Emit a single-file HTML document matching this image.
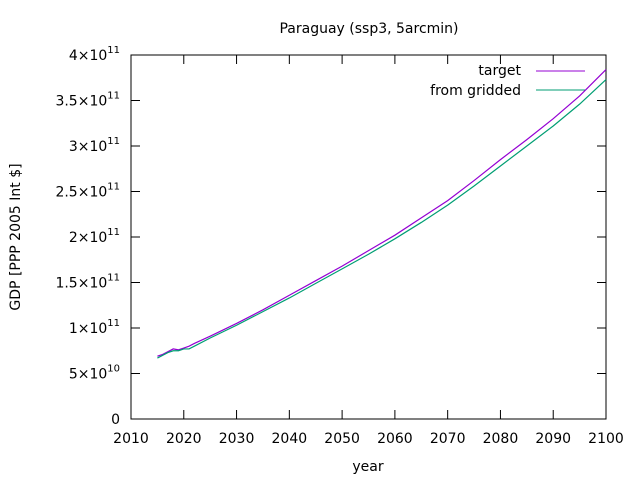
<!DOCTYPE html>
<html><head><meta charset="utf-8"><style>
body{margin:0;background:#fff;}
svg text{font-family:"DejaVu Sans","Liberation Sans",sans-serif;font-size:14px;fill:#000;}
</style></head><body>
<svg width="640" height="480" id="c">
<text x="369" y="33" text-anchor="middle">Paraguay (ssp3, 5arcmin)</text>
<text x="368" y="471" text-anchor="middle">year</text>
<text transform="translate(20,237) rotate(-90)" text-anchor="middle">GDP [PPP 2005 Int $]</text>
<rect x="131" y="55" width="475" height="364" fill="none" stroke="#000"/>
<g id="ticks"></g>
<g>
<text x="521" y="75" text-anchor="end">target</text>
<line x1="536" y1="71" x2="585" y2="71" stroke="#9400d3"/>
<text x="521" y="95" text-anchor="end">from gridded</text>
<line x1="536" y1="90" x2="585" y2="90" stroke="#009e73"/>
</g>
<g id="lines"></g>
</svg>
<script>
const years=[2015,2016,2017,2018,2019,2020,2021,2022,2025,2030,2035,2040,2045,2050,2055,2060,2065,2070,2075,2080,2085,2090,2095,2100];
const target=[0.69,0.71,0.74,0.77,0.76,0.78,0.80,0.83,0.91,1.05,1.20,1.36,1.52,1.68,1.85,2.02,2.21,2.40,2.62,2.85,3.07,3.30,3.55,3.84];
const gridded=[0.67,0.70,0.73,0.75,0.75,0.77,0.77,0.80,0.89,1.03,1.18,1.33,1.49,1.65,1.81,1.98,2.16,2.35,2.56,2.78,3.00,3.22,3.46,3.73];
const xTicks=[2010,2020,2030,2040,2050,2060,2070,2080,2090,2100];
const yTicks=[0,0.5,1,1.5,2,2.5,3,3.5,4];
const yLabels=["0","5×10|10","1×10|11","1.5×10|11","2×10|11","2.5×10|11","3×10|11","3.5×10|11","4×10|11"];
const X=v=>131+(v-2010)*475/90, Y=v=>419-v*91;
const NS="http://www.w3.org/2000/svg";
const tg=document.getElementById('ticks'), lg=document.getElementById('lines');
function mk(t,a,p){const e=document.createElementNS(NS,t);for(const k in a)e.setAttribute(k,a[k]);p.appendChild(e);return e;}
xTicks.forEach(v=>{const x=X(v);
const l1=mk('line',{x1:x,y1:419,x2:x,y2:410,stroke:'#000'},tg);


const l2=mk('line',{x1:x,y1:55,x2:x,y2:64,stroke:'#000'},tg);


const t=mk('text',{x:x,y:443,'text-anchor':'middle'},tg);t.textContent=v;

});
yTicks.forEach((v,i)=>{const y=Y(v);
const l1=mk('line',{x1:131,y1:y,x2:140,y2:y,stroke:'#000'},tg);


const l2=mk('line',{x1:606,y1:y,x2:597,y2:y,stroke:'#000'},tg);


const t=mk('text',{x:120,y:y+5,'text-anchor':'end'},tg);


const p=yLabels[i].split('|');
if(p.length>1){t.textContent=p[0];const s=mk('tspan',{dy:-7,'font-size':'10px'},t);s.textContent=p[1];}else t.textContent=p[0];});
function line(d,c,n){const pts=years.map((y,i)=>X(y)+','+Y(d[i])).join(' ');
const e=mk('polyline',{points:pts,fill:'none',stroke:c,'stroke-width':1.2,'stroke-linejoin':'miter'},lg);

}
line(target,'#9400d3','target-line');
line(gridded,'#009e73','gridded-line');
</script>
</body></html>
